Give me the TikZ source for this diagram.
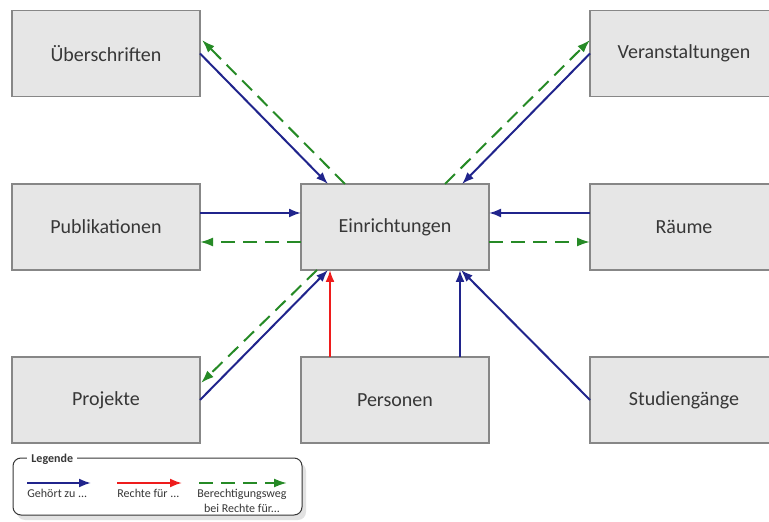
\documentclass[tikz,border=0pt]{standalone}
\usepackage{fontspec}
\setmainfont{Carlito}
\usetikzlibrary{calc,arrows.meta,shadows}
\definecolor{blau}{RGB}{32,36,140}
\definecolor{gruen}{RGB}{38,138,38}
\definecolor{rot}{RGB}{238,28,28}
\definecolor{kastengrau}{RGB}{230,230,230}
\definecolor{randgrau}{RGB}{135,135,135}
\definecolor{schrift}{RGB}{55,55,55}
\begin{document}
\begin{tikzpicture}[x=0.5pt,y=-0.5pt,
  kasten/.style={draw=randgrau,fill=kastengrau,line width=0.8pt,minimum width=94pt,minimum height=43pt,outer sep=0pt,text=schrift,font=\fontsize{10}{12}\selectfont},
  gehoert/.style={draw=blau,line width=1pt,-{Latex[length=6pt,width=4.5pt]}},
  rechte/.style={draw=rot,line width=1pt,-{Latex[length=6pt,width=4.5pt]}},
  weg/.style={draw=gruen,line width=1pt,dash pattern=on 7pt off 4pt,-{Latex[length=6.5pt,width=4.5pt]}},
  legtext/.style={text=schrift,font=\fontsize{6}{7.5}\selectfont,inner sep=0pt}]
\useasboundingbox (0,0) rectangle (769,522);
\clip (0,0) rectangle (769,522);
\node[kasten] (ueb) at (106,53.5) {Überschriften};
\node[kasten] (ver) at (684,53.5) {Veranstaltungen};
\node[kasten] (pub) at (106,227) {Publikationen};
\node[kasten] (ein) at (395,227) {Einrichtungen};
\node[kasten] (rau) at (684,227) {Räume};
\node[kasten] (pro) at (106,400) {Projekte};
\node[kasten] (per) at (395,400) {Personen};
\node[kasten] (stu) at (684,400) {Studiengänge};
% obere Reihe
\draw[gehoert] (ueb.east) -- ($(ein.north west)+(27,0)$);
\draw[weg] ($(ein.north west)+(44,0)$) -- ($(ueb.east)+(2,-13.5)$);
\draw[gehoert] (ver.west) -- ($(ein.north east)+(-27,0)$);
\draw[weg] ($(ein.north east)+(-44,0)$) -- ($(ver.west)+(0,-13.5)$);
% mittlere Reihe
\draw[gehoert] ($(pub.east)+(0,-14)$) -- ($(ein.west)+(0,-14)$);
\draw[weg] ($(ein.west)+(0,15)$) -- ($(pub.east)+(0,15)$);
\draw[gehoert] ($(rau.west)+(0,-14)$) -- ($(ein.east)+(0,-14)$);
\draw[weg] ($(ein.east)+(0,15)$) -- ($(rau.west)+(0,15)$);
% untere Reihe
\draw[gehoert] (pro.east) -- ($(ein.south west)+(27,0)$);
\draw[weg] ($(ein.south west)+(16,0)$) -- ($(pro.east)+(1,-17)$);
\draw[rechte] ($(per.north west)+(29,0)$) -- ($(ein.south west)+(29,0)$);
\draw[gehoert] ($(per.north east)+(-29,0)$) -- ($(ein.south east)+(-29,0)$);
\draw[gehoert] (stu.west) -- ($(ein.south east)+(-28,0)$);
% Legende
\node[draw=schrift,fill=white,line width=0.5pt,rounded corners=4pt,minimum width=144.5pt,minimum height=28.5pt,outer sep=0pt,
  drop shadow={shadow xshift=2pt,shadow yshift=-2.5pt,fill=gray!45}] (legende) at (157.5,486.5) {};
\node[legtext,fill=white,inner xsep=2pt,inner ysep=1pt,font=\fontsize{6}{7.5}\selectfont\bfseries,anchor=west] (legtitel) at (27,459) {Legende};
\coordinate (b1) at (27,483);
\coordinate (b2) at (91,483);
\coordinate (r1) at (117,483);
\coordinate (r2) at (182,483);
\coordinate (g1) at (199,483);
\coordinate (g2) at (287,483);
\draw[gehoert] (b1) -- (b2);
\draw[rechte] (r1) -- (r2);
\draw[weg] (g1) -- (g2);
\node[legtext,anchor=west] (lgeh) at (27,493) {Gehört zu ...};
\node[legtext,anchor=west] (lrec) at (117,493) {Rechte für ...};
\node[legtext,align=center] (lweg) at (242,501) {Berechtigungsweg\\bei Rechte für...};
\end{tikzpicture}
\end{document}
